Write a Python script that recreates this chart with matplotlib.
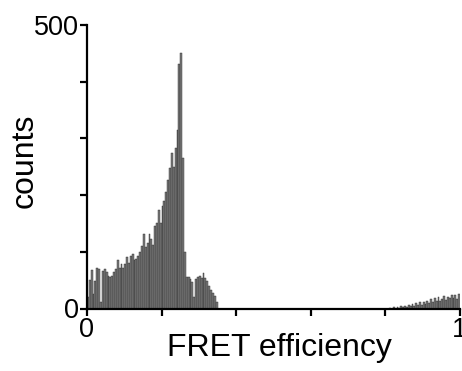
import numpy as np
import matplotlib
matplotlib.use("Agg")
import matplotlib.pyplot as plt

plt.rcParams['font.family'] = ['Liberation Sans', 'DejaVu Sans']

bin_width = 0.005
# counts for bins 0.000-0.350 (70 bins)
counts_low = [20, 50, 68, 25, 48, 72, 70, 12, 66, 70,
              64, 58, 55, 58, 64, 70, 86, 72, 78, 72,
              78, 90, 80, 92, 97, 86, 88, 92, 100, 110,
              132, 108, 115, 132, 122, 112, 145, 150, 173, 150,
              180, 189, 206, 227, 248, 274, 250, 283, 315, 432,
              451, 265, 100, 56, 55, 52, 46, 20, 52, 56,
              57, 54, 62, 54, 48, 40, 32, 27, 22, 12]
# counts for bins 0.350-0.800 (90 bins, empty)
counts_mid = [0] * 90
# counts for bins 0.800-1.000 (40 bins)
counts_high = [0, 0, 1, 0, 2, 0, 3, 1, 4, 2,
               5, 3, 6, 4, 8, 5, 9, 6, 11, 7,
               12, 8, 14, 10, 16, 11, 18, 13, 20, 14,
               17, 22, 15, 21, 18, 24, 19, 23, 17, 25]

counts = np.array(counts_low + counts_mid + counts_high)
edges = np.arange(len(counts)) * bin_width

fig = plt.figure(figsize=(4.62, 3.71), dpi=100)
ax = fig.add_axes([87/462, 1 - 308.5/371, 373/462, (308.5 - 25)/371])

ax.bar(edges, counts, width=bin_width, align='edge',
       color='#7a7a7a', edgecolor='#2a2a2a', linewidth=0.3)

ax.set_xlim(0, 1)
ax.set_ylim(0, 500)

ax.spines['top'].set_visible(False)
ax.spines['right'].set_visible(False)
for s in ['left', 'bottom']:
    ax.spines[s].set_linewidth(1.6)
    ax.spines[s].set_color('black')

xticks = [0, 0.2, 0.4, 0.6, 0.8, 1.0]
xticklabels = ['0', '', '', '', '', '1']
yticks = [0, 100, 200, 300, 400, 500]
yticklabels = ['0', '', '', '', '', '500']
ax.set_xticks(xticks)
ax.set_xticklabels(xticklabels)
ax.set_yticks(yticks)
ax.set_yticklabels(yticklabels)
ax.tick_params(axis='both', direction='out', length=5, width=1.6,
               labelsize=19.5, pad=1)

ax.set_xlabel('FRET efficiency', fontsize=23)
ax.set_ylabel('counts', fontsize=23)
ax.xaxis.set_label_coords(0.517, -0.085)
ax.yaxis.set_label_coords(-0.128, 0.522)
for lbl in ax.get_xticklabels():
    lbl.set_clip_on(False)

fig.savefig('out.png', dpi=100)
